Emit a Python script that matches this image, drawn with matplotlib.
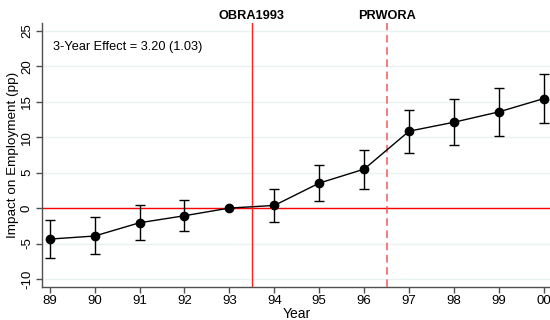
import matplotlib
matplotlib.use("Agg")
import matplotlib.pyplot as plt
import matplotlib.transforms as mtransforms
import numpy as np

plt.rcParams['font.family'] = ['Liberation Sans', 'DejaVu Sans']

years = [89, 90, 91, 92, 93, 94, 95, 96, 97, 98, 99, 100]
year_labels = ["89", "90", "91", "92", "93", "94", "95", "96", "97", "98", "99", "00"]
estimate = [-4.37, -3.94, -2.07, -1.08, 0.0, 0.37, 3.52, 5.49, 10.84, 12.10, 13.56, 15.44]
ci_upper = [-1.7, -1.3, 0.37, 1.13, 0.0, 2.62, 6.1, 8.25, 13.88, 15.35, 16.9, 18.9]
ci_lower = [-7.1, -6.5, -4.5, -3.3, 0.0, -1.97, 0.93, 2.68, 7.79, 8.9, 10.18, 11.97]
y_ticks = [-10, -5, 0, 5, 10, 15, 20, 25]
events = [93.5, 96.5]
event_labels = ["OBRA1993", "PRWORA"]
annotation = "3-Year Effect = 3.20 (1.03)"

fig = plt.figure(figsize=(5.5, 3.2), dpi=100)
fig.patch.set_facecolor('white')
ax = fig.add_axes([42/550, 33.3/320, 510/550, 263.4/320])

for t in y_ticks:
    ax.axhline(t, color='#eaf2f3', lw=1.0, zorder=0)

ax.axhline(0, color='#ff0000', lw=1.0, zorder=1)
ax.axvline(events[0], color='#ff2020', lw=1.0, zorder=1)
ax.axvline(events[1], color='#f05a5a', lw=1.1, ls=(0, (5, 3)), zorder=1)

est = np.array(estimate)
err = [est - np.array(ci_lower), np.array(ci_upper) - est]
has_err = [u != l for u, l in zip(ci_upper, ci_lower)]
yrs = np.array(years)
mask = np.array(has_err)
ax.errorbar(yrs[mask], est[mask], yerr=[err[0][mask], err[1][mask]], fmt='none',
            ecolor='black', elinewidth=1.0, capsize=3.5, capthick=1.0, zorder=2)
ax.plot(years, estimate, color='black', lw=1.0, marker='o', markersize=6,
        markerfacecolor='black', markeredgecolor='black', zorder=3)

ax.set_xlim(88.83, 100.18)
ax.set_ylim(-11.08, 26.04)
ax.set_xticks(years)
ax.set_xticklabels(year_labels, fontsize=9.5)
ax.set_yticks(y_ticks)
ax.set_yticklabels([str(t) for t in y_ticks], fontsize=9.5, rotation=90, va='center')

for s in ['top', 'right']:
    ax.spines[s].set_visible(False)
for s in ['left', 'bottom']:
    ax.spines[s].set_color('#505050')
    ax.spines[s].set_linewidth(1.0)
ax.tick_params(axis='both', direction='out', length=4, width=1, color='#505050', pad=2.5)
ax.tick_params(axis='x', pad=2)

ax.set_xlabel("Year", fontsize=10, labelpad=0)
ax.set_ylabel("Impact on Employment (pp)", fontsize=9.7, labelpad=1.5)

trans = mtransforms.blended_transform_factory(ax.transData, ax.transAxes)
for x, lab in zip(events, event_labels):
    ax.text(x, 1.028, lab, transform=trans, ha='center', va='center',
            fontsize=9.2, fontweight='bold')

ax.text(89.07, 22.7, annotation, fontsize=9.2, ha='left', va='center')

fig.savefig("out.png", dpi=100)
